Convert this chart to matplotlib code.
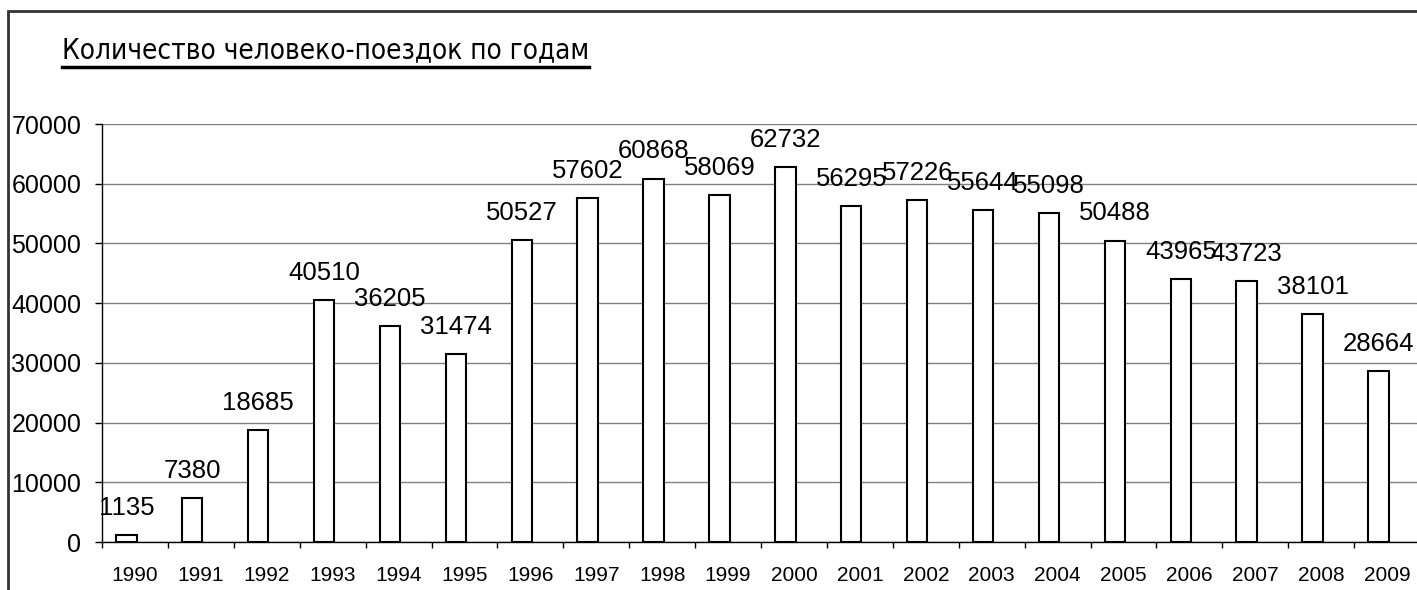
import matplotlib
matplotlib.use("Agg")
import matplotlib.pyplot as plt
from matplotlib.lines import Line2D
from matplotlib.patches import Rectangle

# data
years = ["1990", "1991", "1992", "1993", "1994", "1995", "1996", "1997", "1998", "1999",
         "2000", "2001", "2002", "2003", "2004", "2005", "2006", "2007", "2008", "2009"]
trips = [1135, 7380, 18685, 40510, 36205, 31474, 50527, 57602, 60868, 58069,
         62732, 56295, 57226, 55644, 55098, 50488, 43965, 43723, 38101, 28664]
y_ticks = [0, 10000, 20000, 30000, 40000, 50000, 60000, 70000]
title = "Количество человеко-поездок по годам"

W, H = 1417, 590
fig = plt.figure(figsize=(W / 100, H / 100), dpi=100)

# outer frame (cut by the picture edge on the right and bottom)
fig.patches.append(Rectangle((8 / W, -0.1), 1.2, (H - 11) / H + 0.1, transform=fig.transFigure,
                             fill=False, edgecolor="#333333", linewidth=2))

ax = fig.add_axes([102 / W, 48 / H, 1318 / W, 418 / H])
x = list(range(len(years)))
xb = [i - 0.13 for i in x]
ax.bar(xb, trips, width=0.31, color="white", edgecolor="black", linewidth=1.5, zorder=3)

for xi, v in zip(xb, trips):
    ax.annotate(str(v), (xi, v), xytext=(0, 14.5), textcoords="offset points",
                ha="center", va="baseline", fontsize=18.5, family="Liberation Sans")

ax.set_xlim(-0.5, len(years) - 0.5)
ax.set_ylim(0, 70000)
ax.set_yticks(y_ticks)
ax.set_yticklabels([str(t) for t in y_ticks], family="Liberation Sans", fontsize=18)
ax.set_xticks(x)
ax.set_xticklabels(years, family="Liberation Sans", fontsize=15)
ax.set_xticks([i - 0.5 for i in range(len(years) + 1)], minor=True)
ax.tick_params(axis="x", which="major", length=0, pad=17.5)
ax.tick_params(axis="x", which="minor", length=4.5, width=1, direction="out")
ax.tick_params(axis="y", length=5, width=1, pad=10)
ax.yaxis.grid(True, color="#808080", linewidth=1)
ax.set_axisbelow(True)
for s in ["top", "right"]:
    ax.spines[s].set_visible(False)
ax.spines["left"].set_linewidth(1)
ax.spines["bottom"].set_linewidth(1)

t = fig.text(62 / W, (H - 58) / H, title, fontsize=20, family="DejaVu Sans",
             fontstretch="condensed", ha="left", va="baseline")
fig.canvas.draw()
bb = t.get_window_extent()
uy = (H - 67) / H
fig.lines.append(Line2D([bb.x0 / W, bb.x1 / W], [uy, uy], transform=fig.transFigure,
                        color="black", linewidth=2.5))

fig.savefig("out.png", dpi=100)
